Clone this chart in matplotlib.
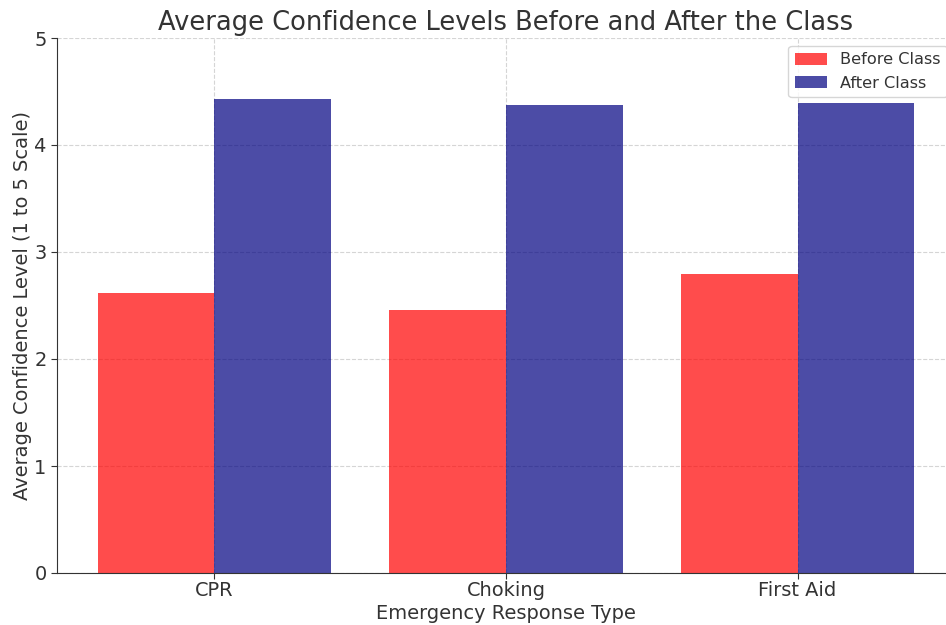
import matplotlib
matplotlib.use("Agg")
import matplotlib.pyplot as plt
import numpy as np

categories = ["CPR", "Choking", "First Aid"]
before = [2.62, 2.46, 2.79]
after = [4.43, 4.37, 4.39]

fig = plt.figure(figsize=(9.46, 6.25), dpi=100)
ax = fig.add_axes([57/946, 1-573/625, (955-57)/946, (573-38)/625])

x = np.arange(len(categories))
w = 0.4
ax.bar(x - w/2, before, w, color="red", alpha=0.7, label="Before Class", zorder=2)
ax.bar(x + w/2, after, w, color="navy", alpha=0.7, label="After Class", zorder=2)

s = 1.16
ax.set_xticks(x)
ax.set_xticklabels(categories, fontsize=12*s, color="#333333")
ax.set_ylim(0, 5)
ax.set_yticks([0, 1, 2, 3, 4, 5])
ax.tick_params(axis="y", labelsize=12*s, labelcolor="#333333")
ax.tick_params(length=4, color="#333333")
ax.tick_params(axis="x", pad=1.5)
ax.set_xlabel("Emergency Response Type", fontsize=12*s, color="#333333", labelpad=3)
ax.set_ylabel("Average Confidence Level (1 to 5 Scale)", fontsize=12*s, color="#333333", labelpad=1.5)
ax.set_title("Average Confidence Levels Before and After the Class", fontsize=16*s, color="#333333")
ax.grid(True, linestyle="--", color="#d5d5d5", linewidth=0.8, zorder=0)
ax.set_axisbelow(True)
for sp in ["top", "right"]:
    ax.spines[sp].set_visible(False)
for sp in ["left", "bottom"]:
    ax.spines[sp].set_color("#333333")
leg = ax.legend(loc="upper right", fontsize=10*s)
for t in leg.get_texts():
    t.set_color("#333333")

fig.savefig("out.png", dpi=100)
